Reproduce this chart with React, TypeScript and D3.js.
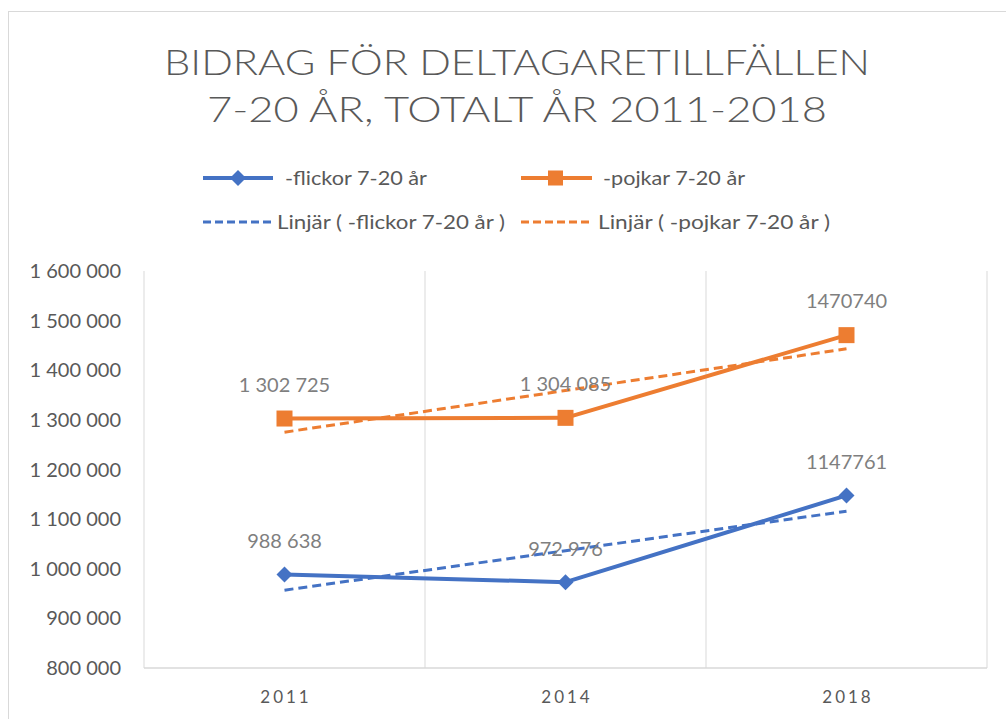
import React from "react";
import * as d3 from "d3";

const years = ["2011", "2014", "2018"];
const flickor = [988638, 972976, 1147761];
const pojkar = [1302725, 1304085, 1470740];
const flickorLabels = ["988 638", "972 976", "1147761"];
const pojkarLabels = ["1 302 725", "1 304 085", "1470740"];
const yTicks = [800000, 900000, 1000000, 1100000, 1200000, 1300000, 1400000, 1500000, 1600000];
const titleLines = ["BIDRAG FÖR DELTAGARETILLFÄLLEN", "7-20 ÅR, TOTALT ÅR 2011-2018"];
const legendNames = ["-flickor 7-20 år", "-pojkar 7-20 år", "Linjär ( -flickor 7-20 år )", "Linjär ( -pojkar 7-20 år  )"];

const BLUE = "#4472C4";
const ORANGE = "#ED7D31";
const FONT = "Lato, 'Open Sans', sans-serif";

function trend(vals: number[]): number[] {
  const xs = vals.map((_, i) => i + 1);
  const mx = d3.mean(xs)!;
  const my = d3.mean(vals)!;
  const num = d3.sum(xs.map((x, i) => (x - mx) * (vals[i] - my)));
  const den = d3.sum(xs.map((x) => (x - mx) * (x - mx)));
  const b = num / den;
  const a = my - b * mx;
  return xs.map((x) => a + b * x);
}

export default function App() {
  const W = 1006, H = 719;
  const left = 144, right = 987, top = 271, bottom = 668;
  const x = d3.scaleBand<string>().domain(years).range([left, right]);
  const y = d3.scaleLinear().domain([800000, 1600000]).range([bottom, top]);
  const cx = (d: string) => x(d)! + x.bandwidth() / 2;
  const line = d3.line<number>().x((_, i) => cx(years[i])).y((v) => y(v));
  const tf = trend(flickor);
  const tp = trend(pojkar);
  const diamond = (px: number, py: number, r: number) =>
    `M${px},${py - r}L${px + r},${py}L${px},${py + r}L${px - r},${py}Z`;

  return (
    <svg width={W} height={H} style={{ position: "absolute", left: 0, top: 0, background: "#fff" }}>
      <rect x={8.5} y={11.5} width={1010} height={720} fill="#fff" stroke="#d9d9d9" strokeWidth={1} />
      {titleLines.map((t, i) => (
        <text key={i} x={517} y={75 + i * 47} textAnchor="middle" fontFamily={FONT} fontWeight={300}
          fontSize={36} fill="#595959" textLength={i === 0 ? 706 : 620} lengthAdjust="spacingAndGlyphs">{t}</text>
      ))}
      <g fontFamily={FONT} fontSize={20} fill="#595959">
        <line x1={203} x2={273} y1={178} y2={178} stroke={BLUE} strokeWidth={4} />
        <path d={diamond(238, 178, 8)} fill={BLUE} />
        <text x={285} y={185} textLength={142} lengthAdjust="spacingAndGlyphs">{legendNames[0]}</text>
        <line x1={521} x2={592} y1={178} y2={178} stroke={ORANGE} strokeWidth={4} />
        <rect x={548} y={170.5} width={15} height={15} fill={ORANGE} />
        <text x={603} y={185} textLength={142} lengthAdjust="spacingAndGlyphs">{legendNames[1]}</text>
        <line x1={203} x2={273} y1={222} y2={222} stroke={BLUE} strokeWidth={3} strokeDasharray="8,4" />
        <text x={277} y={229} textLength={228} lengthAdjust="spacingAndGlyphs">{legendNames[2]}</text>
        <line x1={521} x2={592} y1={222} y2={222} stroke={ORANGE} strokeWidth={3} strokeDasharray="8,4" />
        <text x={598} y={229} textLength={232} lengthAdjust="spacingAndGlyphs">{legendNames[3]}</text>
      </g>
      {years.map((yr) => (
        <line key={yr} x1={x(yr)! + x.bandwidth()} x2={x(yr)! + x.bandwidth()} y1={top} y2={bottom} stroke="#d9d9d9" strokeWidth={1} />
      ))}
      <line x1={left} x2={left} y1={top} y2={bottom} stroke="#d9d9d9" />
      <line x1={left} x2={right} y1={bottom} y2={bottom} stroke="#d9d9d9" strokeWidth={1.5} />
      {yTicks.map((t) => (
        <text key={t} x={121} y={y(t) + 7} textAnchor="end" fontFamily={FONT} fontSize={20} fill="#595959">
          {d3.format(",")(t).replace(/,/g, " ")}
        </text>
      ))}
      {years.map((yr) => (
        <text key={yr} x={cx(yr) + 1.5} y={703} textAnchor="middle" fontFamily={FONT} fontSize={17} fill="#595959" letterSpacing={3}>{yr}</text>
      ))}
      <path d={line(tp)!} fill="none" stroke={ORANGE} strokeWidth={3} strokeDasharray="9,5" />
      <path d={line(tf)!} fill="none" stroke={BLUE} strokeWidth={3} strokeDasharray="9,5" />
      <path d={line(pojkar)!} fill="none" stroke={ORANGE} strokeWidth={4} strokeLinejoin="round" />
      <path d={line(flickor)!} fill="none" stroke={BLUE} strokeWidth={4} strokeLinejoin="round" />
      {pojkar.map((v, i) => (
        <rect key={i} x={cx(years[i]) - 8} y={y(v) - 8} width={16} height={16} fill={ORANGE} />
      ))}
      {flickor.map((v, i) => (
        <path key={i} d={diamond(cx(years[i]), y(v), 8)} fill={BLUE} />
      ))}
      <g fontFamily={FONT} fontSize={20} fill="#7f7f7f" textAnchor="middle">
        {pojkar.map((v, i) => (
          <text key={i} x={cx(years[i])} y={y(v) - 27}>{pojkarLabels[i]}</text>
        ))}
        {flickor.map((v, i) => (
          <text key={i} x={cx(years[i])} y={y(v) - 26}>{flickorLabels[i]}</text>
        ))}
      </g>
    </svg>
  );
}
